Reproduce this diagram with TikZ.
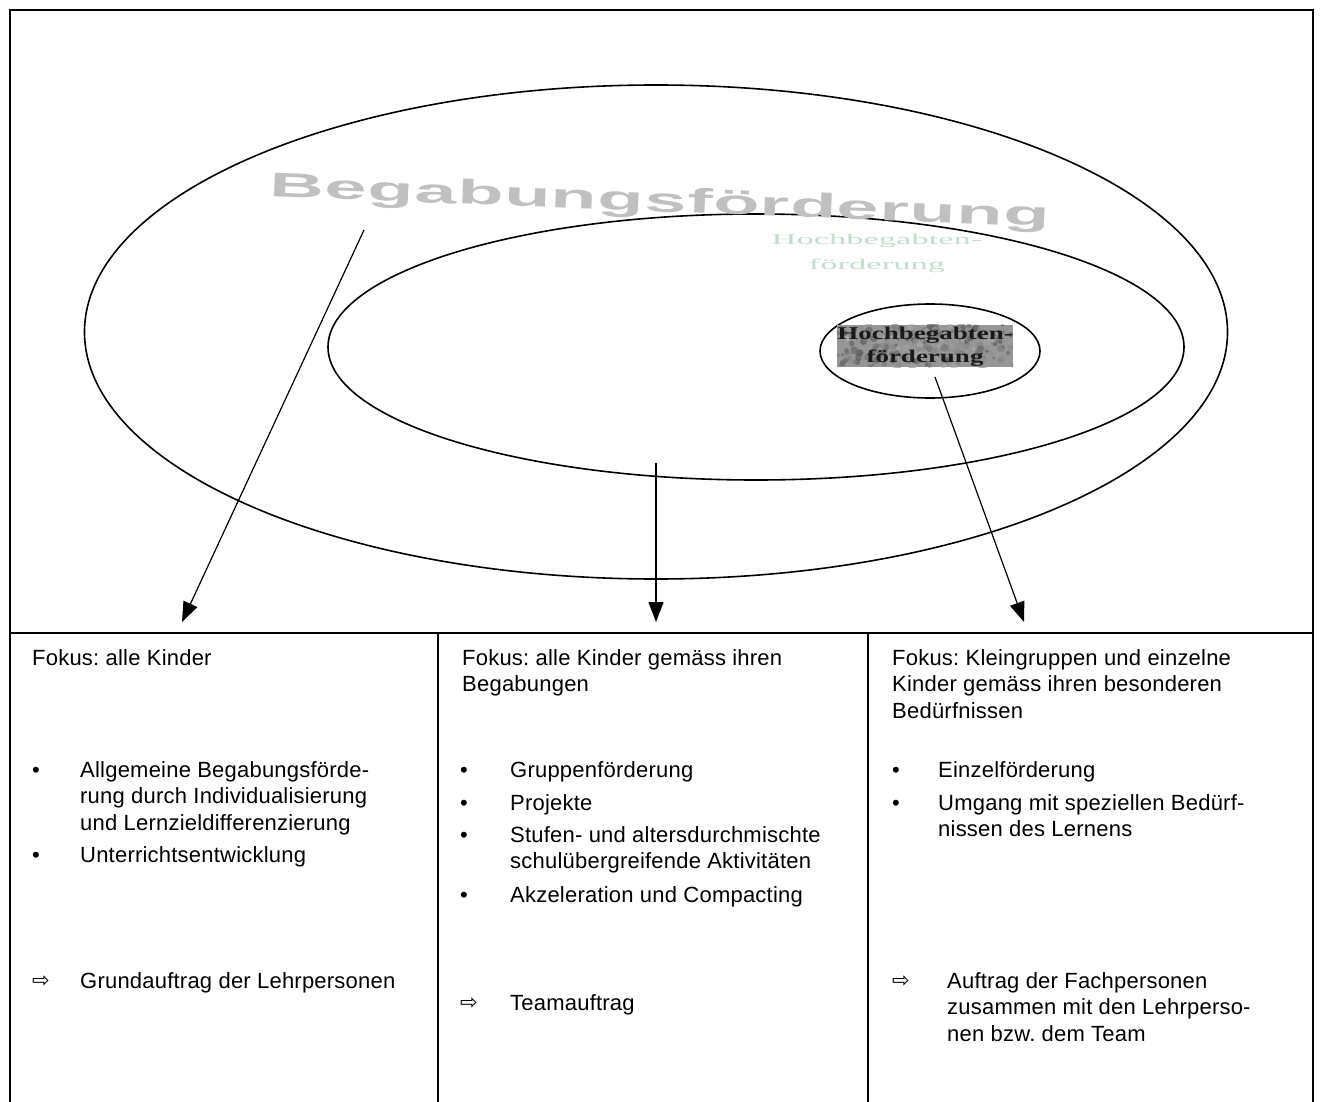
\documentclass[tikz,border=0pt]{standalone}
\usepackage{fontspec}
\usepackage{graphicx}
\setmainfont{Liberation Sans}[LetterSpace=1.0]
\newfontfamily\symfont{DejaVu Sans}
\newfontfamily\seriffont{Liberation Serif}
\usetikzlibrary{arrows.meta,shapes.geometric}
\definecolor{wordgray}{RGB}{192,192,192}
\definecolor{palegreen}{RGB}{195,222,205}
\definecolor{boxgray}{RGB}{150,150,150}
\newcommand{\mlines}[1]{\begin{tabular}[t]{@{}l@{}}#1\end{tabular}}
\frenchspacing
\begin{document}
\begin{tikzpicture}[x=1pt,y=-1pt,
  frame/.style={line width=1.8pt},
  ring/.style={draw,ellipse,line width=1.6pt,inner sep=0pt},
  conn/.style={line width=1.2pt,-{Triangle[length=20pt,width=15pt]}},
  txt/.style={anchor=base west,inner sep=0pt,font=\fontsize{22}{26.5}\selectfont},
  bul/.style={anchor=base west,inner sep=0pt,font=\fontsize{22}{26.5}\selectfont},
  arr/.style={anchor=base west,inner sep=0pt,font=\symfont\fontsize{21}{24}\selectfont}]
\useasboundingbox (0,0) rectangle (1322,1102);
\fill[white] (0,0) rectangle (1322,1102);
% frame
\draw[frame] (10,1102) -- (10,10) -- (1313,10) -- (1313,1102);
\draw[frame] (10,633) -- (1313,633);
\draw[frame] (438,633) -- (438,1102);
\draw[frame] (868,633) -- (868,1102);
% ellipses
\node[ring,minimum width=1143pt,minimum height=494pt] (outer) at (656,332) {};
\node[ring,minimum width=856pt,minimum height=266pt] (inner) at (756,347) {};
\node[ring,minimum width=220pt,minimum height=94pt] (small) at (930,351) {};
% word art
\node[inner sep=0pt,text=wordgray,rotate=-2.2] (wordart) at (660,203)
  {\resizebox*{780pt}{32pt}{\bfseries Begabungsförderung}};
\node[inner sep=0pt,text=palegreen,anchor=base,xscale=2.3,
  font=\seriffont\fontsize{15}{18}\selectfont] (hl1) at (877,244) {Hochbegabten-};
\node[inner sep=0pt,text=palegreen,anchor=base,xscale=2.3,
  font=\seriffont\fontsize{15}{18}\selectfont] (hl2) at (877,269) {förderung};
% textured box
\node[inner sep=0pt,fill=boxgray,minimum width=176pt,minimum height=42pt] (hochbox) at (925,346) {};
\begin{scope}
  \clip (hochbox.south west) rectangle (hochbox.north east);
  \pgfmathsetseed{7}
  \foreach \i in {1,...,260}{
    \pgfmathsetmacro{\rx}{837+176*rnd}
    \pgfmathsetmacro{\ry}{325+42*rnd}
    \pgfmathsetmacro{\rr}{1.5+2.5*rnd}
    \pgfmathsetmacro{\rc}{30+40*rnd}
    \fill[black!\rc,opacity=0.6] (\rx,\ry) circle[radius=\rr];
  }
\end{scope}
\node[inner sep=0pt,anchor=base,xscale=1.5,text=black!90,
  font=\seriffont\bfseries\fontsize{18}{20}\selectfont] (hb1) at (925,339) {Hochbegabten-};
\node[inner sep=0pt,anchor=base,xscale=1.5,text=black!90,
  font=\seriffont\bfseries\fontsize{18}{20}\selectfont] (hb2) at (925,362) {förderung};
% connectors
\coordinate (s1) at (364,230);
\coordinate (e1) at (182,622);
\coordinate (s2) at (656,463);
\coordinate (e2) at (656,622);
\coordinate (s3) at (935,377);
\coordinate (e3) at (1024,622);
\draw[conn] (s1) -- (e1);
\draw[conn] (s2) -- (e2);
\draw[conn] (s3) -- (e3);
% column 1
\node[txt] (f1) at (32,665) {Fokus: alle Kinder};
\node[bul] (b11) at (32,777) {•};
\node[txt] (t11) at (80,777) {\mlines{Allgemeine Begabungsförde-\\rung durch Individualisierung\\und Lernzieldifferenzierung}};
\node[bul] (b12) at (32,862) {•};
\node[txt] (t12) at (80,862) {Unterrichtsentwicklung};
\node[arr] (a1) at (32,987) {⇨};
\node[txt] (g1) at (80,988) {Grundauftrag der Lehrpersonen};
% column 2
\node[txt] (f2) at (462,665) {\mlines{Fokus: alle Kinder gemäss ihren\\Begabungen}};
\node[bul] (b21) at (460,777) {•};
\node[txt] (t21) at (510,777) {Gruppenförderung};
\node[bul] (b22) at (460,810) {•};
\node[txt] (t22) at (510,810) {Projekte};
\node[bul] (b23) at (460,842) {•};
\node[txt] (t23) at (510,842) {\mlines{Stufen- und altersdurchmischte\\schulübergreifende Aktivitäten}};
\node[bul] (b24) at (460,902) {•};
\node[txt] (t24) at (510,902) {Akzeleration und Compacting};
\node[arr] (a2) at (460,1009) {⇨};
\node[txt] (g2) at (510,1010) {Teamauftrag};
% column 3
\node[txt] (f3) at (892,665) {\mlines{Fokus: Kleingruppen und einzelne\\Kinder gemäss ihren besonderen\\Bedürfnissen}};
\node[bul] (b31) at (892,777) {•};
\node[txt] (t31) at (938,777) {Einzelförderung};
\node[bul] (b32) at (892,810) {•};
\node[txt] (t32) at (938,810) {\mlines{Umgang mit speziellen Bedürf-\\nissen des Lernens}};
\node[arr] (a3) at (892,987) {⇨};
\node[txt] (g3) at (947,988) {\mlines{Auftrag der Fachpersonen\\zusammen mit den Lehrperso-\\nen bzw. dem Team}};
\end{tikzpicture}
\end{document}
